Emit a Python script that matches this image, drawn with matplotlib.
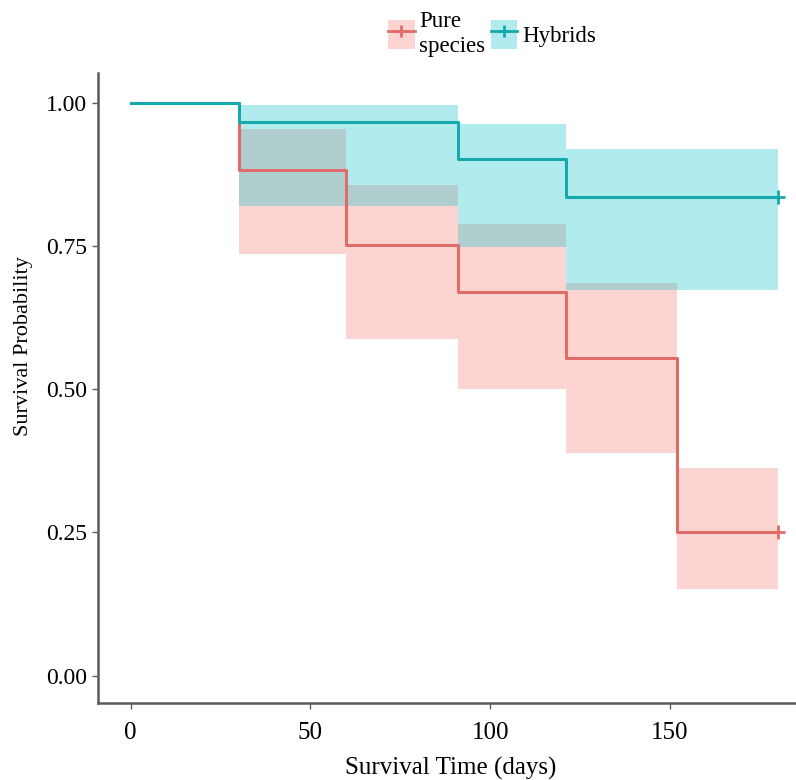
import matplotlib
matplotlib.use("Agg")
import matplotlib.pyplot as plt
from matplotlib.patches import Patch
from matplotlib.lines import Line2D

plt.rcParams['font.family'] = ['Liberation Serif', 'DejaVu Serif']

# Kaplan-Meier estimates
pure_time = [0, 30, 60, 91, 121, 152, 180]
pure_surv = [1.0, 0.882, 0.751, 0.669, 0.554, 0.250, 0.250]
pure_upper = [1.0, 0.954, 0.857, 0.789, 0.686, 0.362, 0.362]
pure_lower = [1.0, 0.736, 0.588, 0.500, 0.388, 0.151, 0.151]

hyb_time = [0, 30, 91, 121, 180]
hyb_surv = [1.0, 0.967, 0.901, 0.835, 0.835]
hyb_upper = [1.0, 0.996, 0.963, 0.920, 0.920]
hyb_lower = [1.0, 0.820, 0.748, 0.673, 0.673]

groups = ["Pure\nspecies", "Hybrids"]
fill_cols = ["#F8766D", "#00BFC4"]
line_cols = ["#DE6D6A", "#14A9AD"]

fig = plt.figure(figsize=(7.96, 7.80), dpi=100)
ax = fig.add_axes([98 / 796, 1 - 703 / 780, 1 - 98 / 796, (703 - 73) / 780])

series = [(pure_time, pure_surv, pure_upper, pure_lower),
          (hyb_time, hyb_surv, hyb_upper, hyb_lower)]
for (t, s, up, lo), fc, lc in zip(series, fill_cols, line_cols):
    ax.fill_between(t, lo, up, step='post', color=fc, alpha=0.3, lw=0)
    ax.step(t, s, where='post', color=lc, lw=2.2)
    ax.plot(t[-1], s[-1], marker='+', color=lc, ms=10, mew=2)

ax.set_xlim(-9.1, 185.1)
ax.set_ylim(-0.048, 1.052)
ax.set_xticks([0, 50, 100, 150])
ax.set_yticks([0, 0.25, 0.5, 0.75, 1.0])
ax.set_yticklabels(["0.00", "0.25", "0.50", "0.75", "1.00"])

for side in ['top', 'right']:
    ax.spines[side].set_visible(False)
for side in ['left', 'bottom']:
    ax.spines[side].set_color('#5a5a5a')
    ax.spines[side].set_linewidth(1.8)
ax.tick_params(axis='y', length=4, width=1, color='#5a5a5a', labelsize=17, pad=4)
ax.tick_params(axis='x', length=4, width=1, color='#5a5a5a', labelsize=18, pad=10)

fig.text(451 / 796, 1 - 768 / 780, "Survival Time (days)", ha='center', va='center', fontsize=18)
fig.text(24 / 796, 1 - 346 / 780, "Survival Probability", ha='center', va='center',
         rotation=90, fontsize=16)

handles = []
for fc, lc in zip(fill_cols, line_cols):
    handles.append((Patch(facecolor=fc, alpha=0.3, edgecolor='none'),
                    Line2D([], [], color=lc, lw=2, marker='+', ms=8, mew=2)))
leg = fig.legend(handles, groups, loc='upper center', bbox_to_anchor=(492 / 796, 1.0),
                 ncol=2, frameon=False, fontsize=16.5, handlelength=1.15, handleheight=1.6,
                 handletextpad=0.2, columnspacing=0.25, borderaxespad=0.1)

fig.savefig("out.png", dpi=100)
